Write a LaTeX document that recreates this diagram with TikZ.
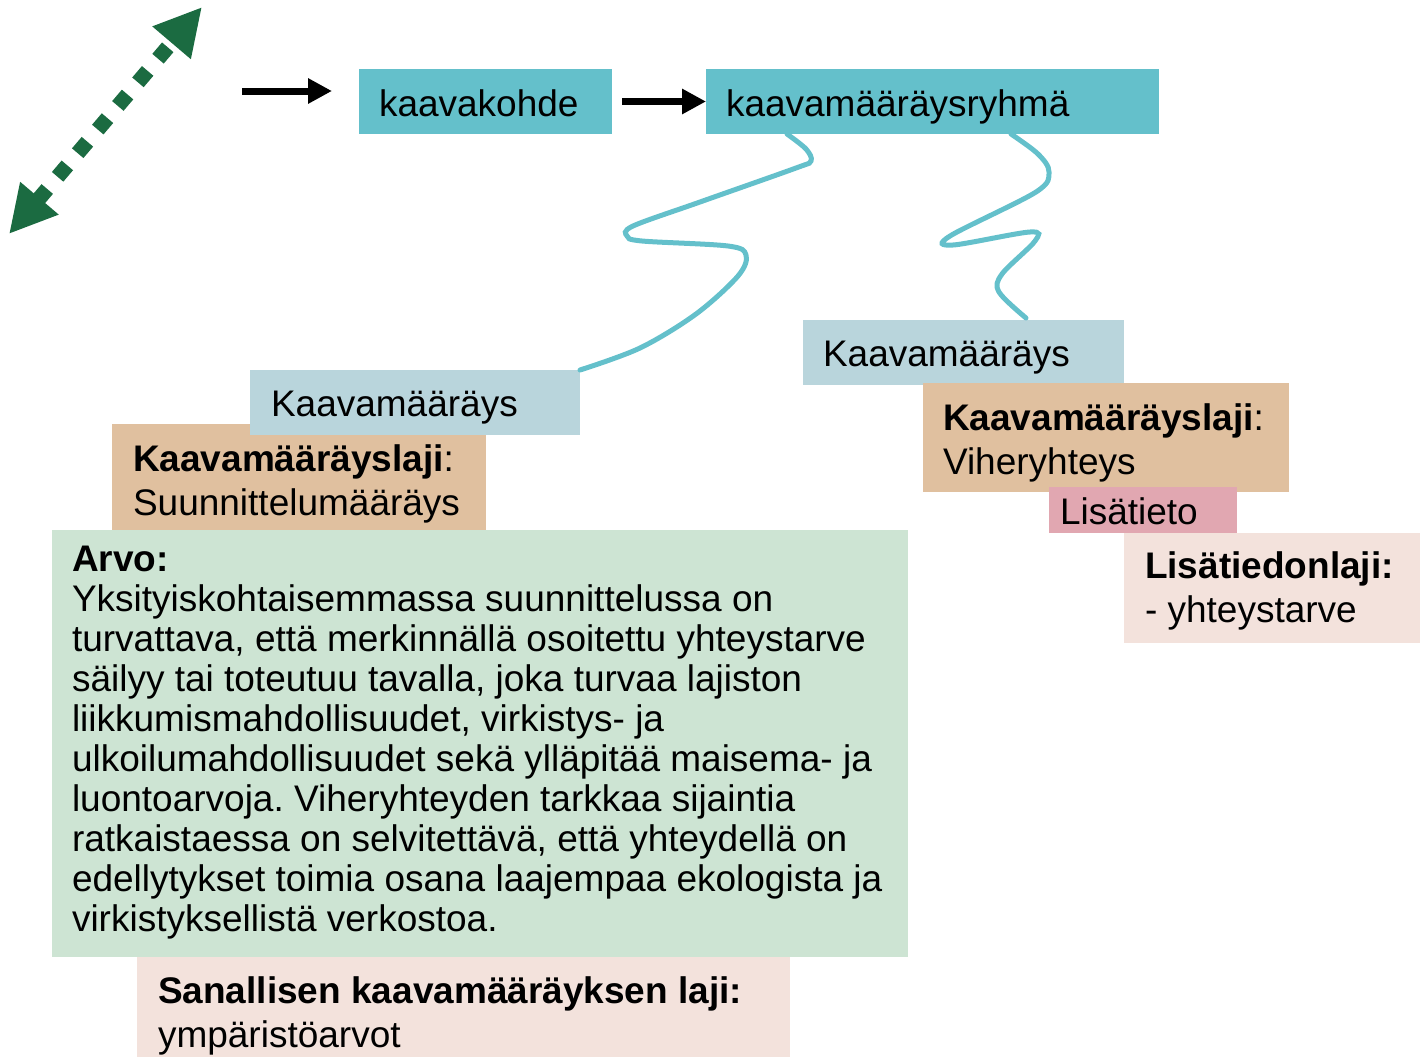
\documentclass[tikz,border=0pt]{standalone}
\usepackage{fontspec}
\setmainfont{Liberation Sans}
\usetikzlibrary{arrows.meta,calc}
\frenchspacing
\definecolor{cyanbox}{HTML}{64C0CB}
\definecolor{paleblue}{HTML}{B9D5DC}
\definecolor{tanbox}{HTML}{E0C09F}
\definecolor{pinkbox}{HTML}{E1A7B1}
\definecolor{rosebox}{HTML}{F3E2DC}
\definecolor{greenbox}{HTML}{CDE4D3}
\definecolor{darkgreen}{HTML}{1B6B41}
\begin{document}
\begin{tikzpicture}[x=1pt,y=-1pt,
  box/.style={inner sep=0pt, outer sep=0pt, anchor=north west, draw=none},
  txt/.style={inner sep=0pt, outer sep=0pt, anchor=base west, align=left, font=\fontsize{37}{40}\selectfont},
  txtwide/.style={txt, font=\fontsize{37}{44}\selectfont},
  blackarrow/.style={line width=7pt, -{Triangle[length=24pt,width=24pt]}},
  wire/.style={cyanbox, line width=5pt, line cap=round},
  greenarrow/.style={darkgreen, line width=15pt, dash pattern=on 15pt off 16pt,
     {Triangle[length=47pt,width=47pt]}-{Triangle[length=47pt,width=47pt]}}
]
\useasboundingbox (0,0) rectangle (1420,1057);

% boxes
\node[box, fill=cyanbox, minimum width=253pt, minimum height=65pt] (kk) at (359,69) {};
\node[box, fill=cyanbox, minimum width=453pt, minimum height=65pt] (ryhma) at (706,69) {};
\node[box, fill=paleblue, minimum width=321pt, minimum height=65pt] (kmR) at (803,320) {};
\node[box, fill=tanbox, minimum width=366pt, minimum height=109pt] (lajiR) at (923,383) {};
\node[box, fill=pinkbox, minimum width=188pt, minimum height=46pt] (lisa) at (1049,487) {};
\node[box, fill=rosebox, minimum width=296pt, minimum height=110pt] (lisalaji) at (1124,533) {};
\node[box, fill=tanbox, minimum width=374pt, minimum height=106pt] (lajiL) at (112,424) {};
\node[box, fill=paleblue, minimum width=330pt, minimum height=65pt] (kmL) at (250,370) {};
\node[box, fill=greenbox, minimum width=856pt, minimum height=427pt] (arvo) at (52,530) {};
\node[box, fill=rosebox, minimum width=653pt, minimum height=100pt] (sanal) at (137,957) {};

% texts (multi-line nodes: base = last line)
\node[txt] (kkT) at (379,116) {kaavakohde};
\node[txt] (ryhmaT) at (726,116) {kaavamääräysryhmä};
\node[txt] (kmRT) at (823,366) {Kaavamääräys};
\node[txtwide] (lajiRT) at (943,474) {\textbf{Kaavamääräyslaji}:\\Viheryhteys};
\node[txt] (lisaT) at (1060,524) {Lisätieto};
\node[txtwide] (lisalajiT) at (1145,622) {\textbf{Lisätiedonlaji:}\\- yhteystarve};
\node[txt] (kmLT) at (271,416) {Kaavamääräys};
\node[txtwide] (lajiLT) at (133,515) {\textbf{Kaavamääräyslaji}:\\Suunnittelumääräys};
\node[txt] (arvoT) at (72,931) {\textbf{Arvo:}\\
Yksityiskohtaisemmassa suunnittelussa on\\
turvattava, että merkinnällä osoitettu yhteystarve\\
säilyy tai toteutuu tavalla, joka turvaa lajiston\\
liikkumismahdollisuudet, virkistys- ja\\
ulkoilumahdollisuudet sekä ylläpitää maisema- ja\\
luontoarvoja. Viheryhteyden tarkkaa sijaintia\\
ratkaistaessa on selvitettävä, että yhteydellä on\\
edellytykset toimia osana laajempaa ekologista ja\\
virkistyksellistä verkostoa.};
\node[txtwide] (sanalT) at (158,1047) {\textbf{Sanallisen kaavamääräyksen laji:}\\ympäristöarvot};

% arrows
\coordinate (a0) at (242,91);
\draw[blackarrow, shorten >=27pt] (a0) -- (a0 -| kk.west);
\draw[blackarrow] ($(kk.east)+(10,0)$) -- (ryhma.west);

\coordinate (gA) at (9,234);
\coordinate (gB) at (202,7);
\draw[greenarrow] (gA) -- (gB);

% wavy connectors
\coordinate (wL0) at ($(ryhma.south west)+(81,0)$);
\coordinate (wR0) at ($(ryhma.south west)+(305,0)$);
\coordinate (wR1) at ($(kmR.north west)+(223,-2)$);
\draw[wire] plot[smooth, tension=0.55] coordinates {(wL0) (806,149) (811,161) (796,168) (700,202) (633,226) (627,236) (642,241) (728,246) (746,255) (738,276) (696,314) (640,348) (kmL.north east)};
\draw[wire] plot[smooth, tension=0.55] coordinates {(wR0) (1038,154) (1049,172) (1036,192) (950,236) (953,245) (1030,232) (1035,241) (1002,274) (999,292) (wR1)};
\end{tikzpicture}
\end{document}
